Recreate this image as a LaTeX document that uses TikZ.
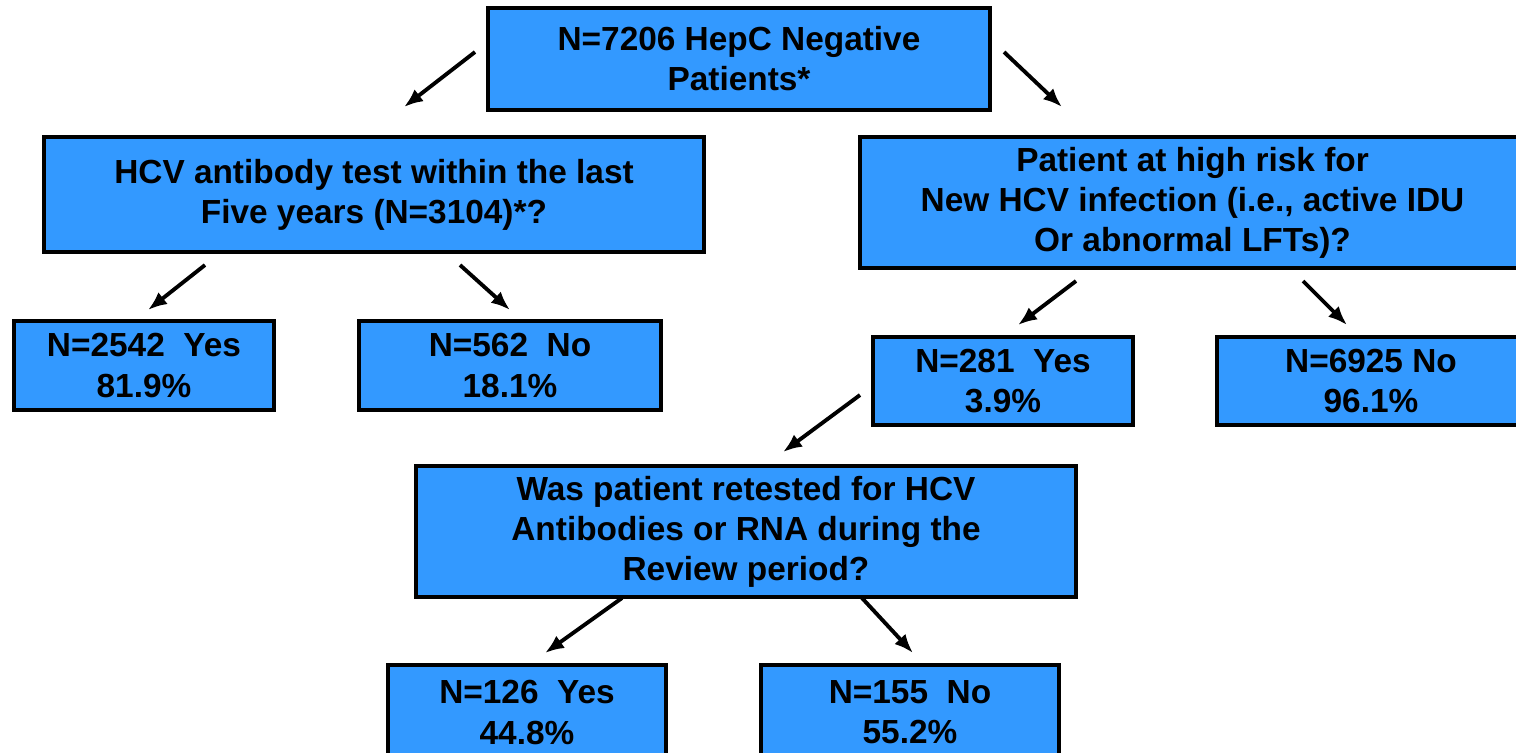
\documentclass[tikz,border=0pt]{standalone}
\usepackage{fontspec}
\setmainfont{Liberation Sans}
\usetikzlibrary{arrows.meta}
\definecolor{boxblue}{HTML}{3399FF}
\tikzset{
  box/.style={draw=black, fill=boxblue, line width=1.2pt, inner sep=0pt, align=center,
    font=\bfseries\fontsize{9.5}{11.4}\selectfont},
  arr/.style={-{Latex[length=1.9mm,width=1.5mm]}, line width=1.1pt}
}
\begin{document}
\begin{tikzpicture}
            \useasboundingbox (0,0) rectangle (15.16,-7.52);
            % top box
            \node[box, minimum width=5.02cm, minimum height=1.02cm] (top) at (7.39,-0.59) {N=7206 HepC Negative\\Patients*};
            % second row
            \node[box, minimum width=6.60cm, minimum height=1.15cm] (hcv) at (3.74,-1.945) {HCV antibody test within the last\\Five years (N=3104)*?};
            \node[box, minimum width=6.65cm, minimum height=1.31cm] (risk) at (11.925,-2.025) {Patient at high risk for\\New HCV infection (i.e., active IDU\\Or abnormal LFTs)?};
            % third row
            \node[box, minimum width=2.60cm, minimum height=0.89cm] (yes1) at (1.44,-3.655) {N=2542\ \ Yes\\81.9\%};
            \node[box, minimum width=3.02cm, minimum height=0.89cm] (no1) at (5.10,-3.655) {N=562\ \ No\\18.1\%};
            \node[box, minimum width=2.60cm, minimum height=0.88cm] (yes2) at (10.03,-3.81) {N=281\ \ Yes\\3.9\%};
            \node[box, minimum width=3.08cm, minimum height=0.88cm] (no2) at (13.71,-3.81) {N=6925 No\\96.1\%};
            % retest question
            \node[box, minimum width=6.60cm, minimum height=1.31cm] (retest) at (7.46,-5.315) {Was patient retested for HCV\\Antibodies or RNA during the\\Review period?};
            % bottom row
            \node[box, minimum width=2.78cm, minimum height=0.95cm] (yes3) at (5.27,-7.125) {N=126\ \ Yes\\44.8\%};
            \node[box, minimum width=2.98cm, minimum height=0.95cm] (no3) at (9.10,-7.125) {N=155\ \ No\\55.2\%};

            % arrow ends
            \coordinate (a1s) at (4.75,-0.52);   \coordinate (a1e) at (4.04,-1.07);
            \coordinate (a2s) at (10.04,-0.52);  \coordinate (a2e) at (10.62,-1.07);
            \coordinate (a3s) at (2.05,-2.65);   \coordinate (a3e) at (1.48,-3.10);
            \coordinate (a4s) at (4.60,-2.65);   \coordinate (a4e) at (5.10,-3.10);
            \coordinate (a5s) at (10.76,-2.81);  \coordinate (a5e) at (10.18,-3.25);
            \coordinate (a6s) at (13.03,-2.81);  \coordinate (a6e) at (13.47,-3.25);
            \coordinate (a7s) at (8.60,-3.95);   \coordinate (a7e) at (7.83,-4.52);
            \coordinate (a8s) at (6.22,-5.98);   \coordinate (a8e) at (5.45,-6.53);
            \coordinate (a9s) at (8.62,-5.98);   \coordinate (a9e) at (9.13,-6.53);
            \draw[arr] (a1s) -- (a1e);
            \draw[arr] (a2s) -- (a2e);
            \draw[arr] (a3s) -- (a3e);
            \draw[arr] (a4s) -- (a4e);
            \draw[arr] (a5s) -- (a5e);
            \draw[arr] (a6s) -- (a6e);
            \draw[arr] (a7s) -- (a7e);
            \draw[arr] (a8s) -- (a8e);
            \draw[arr] (a9s) -- (a9e);
\end{tikzpicture}
\end{document}
